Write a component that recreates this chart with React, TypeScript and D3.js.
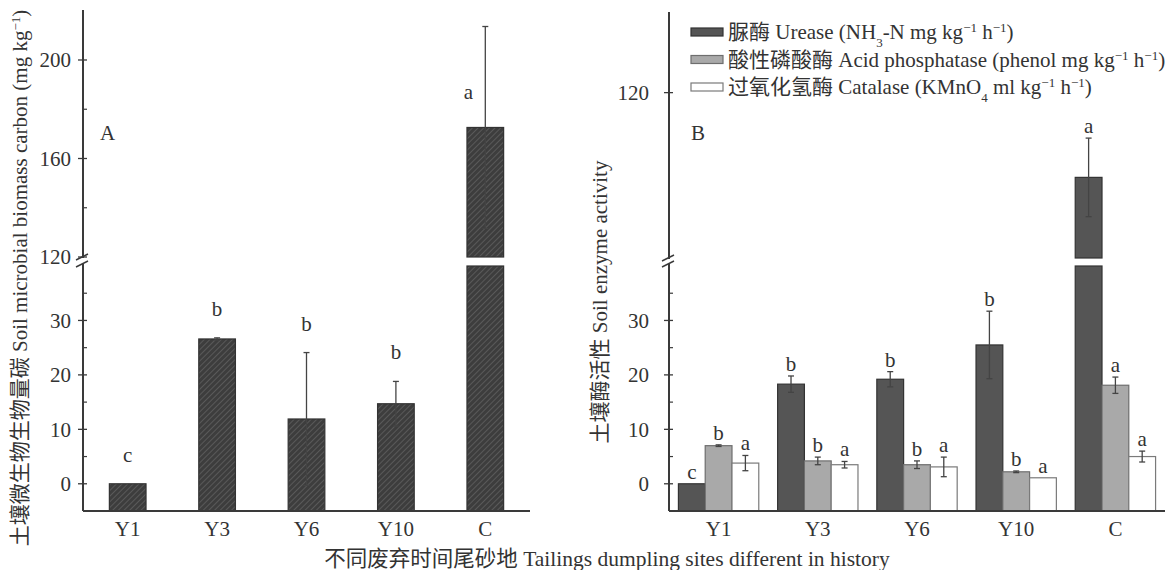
import React from 'react';
import { scaleLinear, scaleBand } from 'd3';

const width = 1176;
const height = 570;
const font = '"Liberation Serif", "Times New Roman", "Noto Sans CJK SC", serif';
const ink = '#3a3a3a';
const fs = 21;

// data
const categories = ['Y1', 'Y3', 'Y6', 'Y10', 'C'];

const mbcValues = [0, 26.6, 11.9, 14.7, 172.6];
const mbcErrors = [0, 0.2, 12.2, 4.1, 41];
const mbcLetters = ['c', 'b', 'b', 'b', 'a'];

const ureaseValues = [0, 18.3, 19.2, 25.5, 79];
const ureaseErrors = [0, 1.5, 1.4, 6.2, 19];
const ureaseLetters = ['c', 'b', 'b', 'b', 'a'];

const phosValues = [7.0, 4.2, 3.5, 2.2, 18.1];
const phosErrors = [0.15, 0.7, 0.7, 0.15, 1.5];
const phosLetters = ['b', 'b', 'b', 'b', 'a'];

const catValues = [3.8, 3.5, 3.1, 1.1, 5.0];
const catErrors = [1.4, 0.6, 1.8, 0, 1.0];
const catLetters = ['a', 'a', 'a', 'a', 'a'];

const lowerTicks = [0, 10, 20, 30];
const lowerMinor = [5, 15, 25, 35];
const upperTicksA = [120, 160, 200];
const upperMinorA = [140, 180];
const upperTicksB = [120];

const seriesB = [
  { key: 'urease', values: ureaseValues, errors: ureaseErrors, letters: ureaseLetters, fill: '#555555', stroke: '#333333' },
  { key: 'phos', values: phosValues, errors: phosErrors, letters: phosLetters, fill: '#a9a9a9', stroke: '#6e6e6e' },
  { key: 'cat', values: catValues, errors: catErrors, letters: catLetters, fill: '#ffffff', stroke: '#7a7a7a' },
];

// shared lower segment, the break sits just above 40
const yLow = scaleLinear().domain([-5, 40]).range([511, 266]);
const lowMax = 40;

const yUpA = scaleLinear().domain([120, 220.3]).range([257, 10]);
const yUpB = scaleLinear().domain([40, 159]).range([258, 12]);

const xA = scaleBand<string>().domain(categories).range([83, 530]);
const xB = scaleBand<string>().domain(categories).range([669, 1165]);

const yOf = (v: number, up: any) => (v > lowMax ? up(v) : yLow(v));

// a bar that may cross the axis break
const BrokenBar = ({ x, w, v, up, fill, stroke }: any) => {
  if (v <= lowMax) {
    return <rect x={x} y={yLow(v)} width={w} height={yLow(-5) - yLow(v)} fill={fill} stroke={stroke} strokeWidth={1.2} />;
  }
  return (
    <g>
      <rect x={x} y={yLow(lowMax)} width={w} height={yLow(-5) - yLow(lowMax)} fill={fill} stroke={stroke} strokeWidth={1.2} />
      <rect x={x} y={up(v)} width={w} height={up.range()[0] - up(v)} fill={fill} stroke={stroke} strokeWidth={1.2} />
    </g>
  );
};

const ErrorBar = ({ cx, v, e, up }: any) => {
  if (e <= 0) return null;
  const top = yOf(v + e, up);
  const bot = yOf(v - e, up);
  return (
    <g stroke="#444" strokeWidth={1.3}>
      <line x1={cx} x2={cx} y1={top} y2={bot} />
      <line x1={cx - 3} x2={cx + 3} y1={top} y2={top} />
      <line x1={cx - 3} x2={cx + 3} y1={bot} y2={bot} />
    </g>
  );
};

const BrokenAxis = ({ x, up, upTicks, upMinor, labelGap }: any) => {
  const [upBottom, upTop] = up.range();
  return (
    <g fontFamily={font} fontSize={fs} fill="#333">
      <line x1={x} x2={x} y1={upTop} y2={upBottom + 1} stroke={ink} strokeWidth={2} />
      <line x1={x} x2={x} y1={yLow(lowMax) - 2} y2={yLow(-5)} stroke={ink} strokeWidth={2} />
      <line x1={x - 7} x2={x + 5} y1={upBottom + 3} y2={upBottom - 3} stroke={ink} strokeWidth={1.5} />
      <line x1={x - 7} x2={x + 5} y1={yLow(lowMax) + 1} y2={yLow(lowMax) - 5} stroke={ink} strokeWidth={1.5} />
      {upTicks.map((t: number) => (
        <g key={'u' + t}>
          <line x1={x - 5} x2={x + 4} y1={up(t)} y2={up(t)} stroke={ink} strokeWidth={1.3} />
          <text x={x - labelGap} y={up(t)} dy="0.35em" textAnchor="end">{t}</text>
        </g>
      ))}
      {upMinor.map((t: number) => (
        <line key={'um' + t} x1={x} x2={x + 4} y1={up(t)} y2={up(t)} stroke={ink} strokeWidth={1.2} />
      ))}
      {lowerTicks.map(t => (
        <g key={'l' + t}>
          <line x1={x - 5} x2={x + 4} y1={yLow(t)} y2={yLow(t)} stroke={ink} strokeWidth={1.3} />
          <text x={x - labelGap} y={yLow(t)} dy="0.35em" textAnchor="end">{t}</text>
        </g>
      ))}
      {lowerMinor.map(t => (
        <line key={'lm' + t} x1={x} x2={x + 4} y1={yLow(t)} y2={yLow(t)} stroke={ink} strokeWidth={1.2} />
      ))}
    </g>
  );
};

const AxisBottom = ({ xScale }: any) => {
  const [x0, x1] = xScale.range();
  return (
    <g fontFamily={font} fontSize={fs} fill="#333">
      <line x1={x0} x2={x1} y1={yLow(-5)} y2={yLow(-5)} stroke={ink} strokeWidth={2} />
      {xScale.domain().map((c: string) => (
        <text key={c} x={xScale(c) + xScale.bandwidth() / 2} y={yLow(-5) + 25} textAnchor="middle">{c}</text>
      ))}
    </g>
  );
};

const PanelA = () => {
  const bw = xA.bandwidth() * 0.41;
  return (
    <g>
      {categories.map((c, i) => {
        const cx = xA(c)! + xA.bandwidth() / 2;
        const v = mbcValues[i];
        const e = mbcErrors[i];
        const isBig = v > lowMax;
        const ly = isBig ? yUpA(v) - 28 : yOf(v + e, yUpA) - 22;
        return (
          <g key={c}>
            <BrokenBar x={cx - bw / 2} w={bw} v={v} up={yUpA} fill="url(#hatch)" stroke="#333" />
            <ErrorBar cx={cx} v={v} e={e} up={yUpA} />
            <text x={isBig ? cx - 17 : cx} y={ly} textAnchor="middle" fontFamily={font} fontSize={fs} fill="#333">
              {mbcLetters[i]}
            </text>
          </g>
        );
      })}
      <BrokenAxis x={83} up={yUpA} upTicks={upperTicksA} upMinor={upperMinorA} labelGap={12} />
      <AxisBottom xScale={xA} />
      <text x={100} y={140} fontFamily={font} fontSize={fs} fill="#333">A</text>
      <text
        transform={`translate(27,${278}) rotate(-90)`}
        textAnchor="middle"
        fontFamily={font}
        fontSize={fs}
        fill="#333"
      >
        土壤微生物生物量碳 Soil microbial biomass carbon (mg kg
        <tspan baselineShift="super" fontSize={13}>−1</tspan>)
      </text>
    </g>
  );
};

const PanelB = () => {
  const groupW = xB.bandwidth() * 0.81;
  const bw = groupW / 3;
  return (
    <g>
      {categories.map((c, i) => {
        const gx = xB(c)! + xB.bandwidth() / 2 - groupW / 2;
        return (
          <g key={c}>
            {seriesB.map((s, j) => {
              const x = gx + j * bw;
              const cx = x + bw / 2;
              const v = s.values[i];
              const e = s.errors[i];
              return (
                <g key={s.key}>
                  <BrokenBar x={x} w={bw} v={v} up={yUpB} fill={s.fill} stroke={s.stroke} />
                  <ErrorBar cx={cx} v={v} e={e} up={yUpB} />
                  <text x={cx} y={yOf(v + e, yUpB) - 5} textAnchor="middle" fontFamily={font} fontSize={fs} fill="#333">
                    {s.letters[i]}
                  </text>
                </g>
              );
            })}
          </g>
        );
      })}
      <BrokenAxis x={669} up={yUpB} upTicks={upperTicksB} upMinor={[]} labelGap={20} />
      <AxisBottom xScale={xB} />
      <text x={691} y={140} fontFamily={font} fontSize={fs} fill="#333">B</text>
      <text
        transform={`translate(607,${302}) rotate(-90)`}
        textAnchor="middle"
        fontFamily={font}
        fontSize={fs}
        fill="#333"
      >
        土壤酶活性 Soil enzyme activity
      </text>
      <Legend />
    </g>
  );
};

const sup = (t: string) => <tspan baselineShift="super" fontSize={13}>{t}</tspan>;
const sub = (t: string) => <tspan baselineShift="sub" fontSize={13}>{t}</tspan>;

const legendLabels = [
  <>脲酶 Urease (NH{sub('3')}-N mg kg{sup('−1')} h{sup('−1')})</>,
  <>酸性磷酸酶 Acid phosphatase (phenol mg kg{sup('−1')} h{sup('−1')})</>,
  <>过氧化氢酶 Catalase (KMnO{sub('4')} ml kg{sup('−1')} h{sup('−1')})</>,
];

const Legend = () => (
  <g fontFamily={font} fontSize={21} fill="#333">
    {seriesB.map((s, i) => {
      const y = 32 + i * 27.5;
      return (
        <g key={s.key}>
          <rect x={691} y={y - 4} width={32} height={8} fill={s.fill} stroke={s.stroke} strokeWidth={1.2} />
          <text x={728} y={y} dy="0.35em">{legendLabels[i]}</text>
        </g>
      );
    })}
  </g>
);

const App = () => (
  <svg width={width} height={height} style={{ position: 'absolute', left: 0, top: 0, background: '#fff' }}>
    <defs>
      <pattern id="hatch" width={4} height={4} patternUnits="userSpaceOnUse" patternTransform="rotate(45)">
        <rect width={4} height={4} fill="#3d3d3d" />
        <line x1={0} y1={0} x2={0} y2={4} stroke="#6b6b6b" strokeWidth={1.2} />
      </pattern>
    </defs>
    <rect width={width} height={height} fill="#fff" />
    <PanelA />
    <PanelB />
    <text x={607} y={566} textAnchor="middle" fontFamily={font} fontSize={21.5} fill="#333">
      不同废弃时间尾砂地 Tailings dumpling sites different in history
    </text>
  </svg>
);

export default App;
